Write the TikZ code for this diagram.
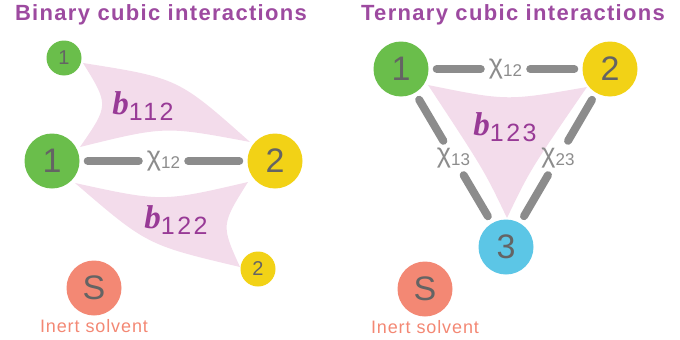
\documentclass[tikz,border=0pt]{standalone}
\usepackage{fontspec}
\setmainfont{Liberation Sans}
\newfontfamily\coeffam{Liberation Serif}
\usetikzlibrary{positioning,calc}
\definecolor{titlepurple}{RGB}{157,74,160}
\definecolor{coefpurple}{RGB}{152,58,150}
\definecolor{lobepink}{RGB}{243,220,235}
\definecolor{beadgreen}{RGB}{106,190,75}
\definecolor{beadyellow}{RGB}{242,210,22}
\definecolor{beadblue}{RGB}{92,198,230}
\definecolor{beadsalmon}{RGB}{243,136,116}
\definecolor{bondgray}{RGB}{140,140,140}
\definecolor{numgray}{RGB}{100,100,100}
\newcommand\chilab[1]{{\fontsize{27}{27}\selectfont χ}\raisebox{-3pt}{\fontsize{17}{17}\selectfont #1}}
\newcommand\coefb[1]{{\coeffam\bfseries\itshape\fontsize{33}{33}\selectfont b}%
  \raisebox{-6pt}{\fontsize{25}{25}\selectfont\addfontfeature{LetterSpace=10}#1}}

\begin{document}
\begin{tikzpicture}[x=1pt,y=-1pt,
    bead/.style={circle,inner sep=0pt,minimum size=55pt,text=numgray,
      font=\fontsize{34}{34}\selectfont},
    smallbead/.style={bead,minimum size=35pt,font=\fontsize{20}{20}\selectfont},
    bond/.style={line width=8pt,line cap=round,draw=bondgray,
      shorten <=8pt,shorten >=8pt},
    chi/.style={inner sep=0pt,text=bondgray},
    lobe/.style={fill=lobepink},
    coef/.style={inner sep=0pt,text=coefpurple},
    title/.style={anchor=base,text=titlepurple,
      font=\fontsize{22}{26}\selectfont\bfseries\addfontfeature{LetterSpace=6}},
    solvent/.style={inner sep=0pt,text=beadsalmon,
      font=\fontsize{18}{20}\selectfont\addfontfeature{LetterSpace=5}}]
  \useasboundingbox (0,0) rectangle (680,340);

  % binary panel
  \node[title] (ttlL) at (161,20) {Binary cubic interactions};
  \fill[lobe] (83,63) .. controls (178,78) .. (250,142)
    .. controls (165,126) .. (80,147) .. controls (109,105) .. (83,63) -- cycle;
  \fill[lobe] (75,183) .. controls (162,202) .. (248,182)
    .. controls (221,225) .. (240,267) .. controls (147,245) .. (75,183) -- cycle;
  \node[smallbead,fill=beadgreen] (s1) at (64,58) {1};
  \node[bead,fill=beadgreen] (a1) at (52,161) {1};
  \node[bead,fill=beadyellow] (a2) at (275,161) {2};
  \node[smallbead,fill=beadyellow] (s2) at (258,269) {2};
  \node[chi] (x12L) at ($(a1)!0.5!(a2)$) {\chilab{12}};
  \draw[bond] (a1) -- (x12L);
  \draw[bond] (x12L) -- (a2);
  \node[coef] (b112) at (143,106) {\coefb{112}};
  \node[coef] (b122) at (176,220) {\coefb{122}};
  \node[bead,fill=beadsalmon] (sL) at (94,288) {S};
  \node[solvent,below=4pt of sL] (inL) {Inert solvent};

  % ternary panel
  \node[title] (ttlR) at (513,20) {Ternary cubic interactions};
  \fill[lobe] (428,85) .. controls (507,101) .. (587,87)
    .. controls (530,170) .. (507,218) .. controls (484,170) .. (428,85) -- cycle;
  \node[bead,fill=beadgreen] (t1) at (401,69) {1};
  \node[bead,fill=beadyellow] (t2) at (610,69) {2};
  \node[bead,fill=beadblue] (t3) at (506,247) {3};
  \node[chi] (x12R) at ($(t1)!0.5!(t2)$) {\chilab{12}};
  \node[chi] (x13) at ($(t1)!0.5!(t3)$) {\chilab{13}};
  \node[chi] (x23) at ($(t2)!0.5!(t3)$) {\chilab{23}};
  \draw[bond] (t1) -- (x12R);
  \draw[bond] (x12R) -- (t2);
  \draw[bond] (t1) -- (x13);
  \draw[bond] (x13) -- (t3);
  \draw[bond] (t2) -- (x23);
  \draw[bond] (x23) -- (t3);
  \node[coef] (b123) at (505,127) {\coefb{123}};
  \node[bead,fill=beadsalmon] (sR) at (425,289) {S};
  \node[solvent,below=4pt of sR] (inR) {Inert solvent};
\end{tikzpicture}
\end{document}
